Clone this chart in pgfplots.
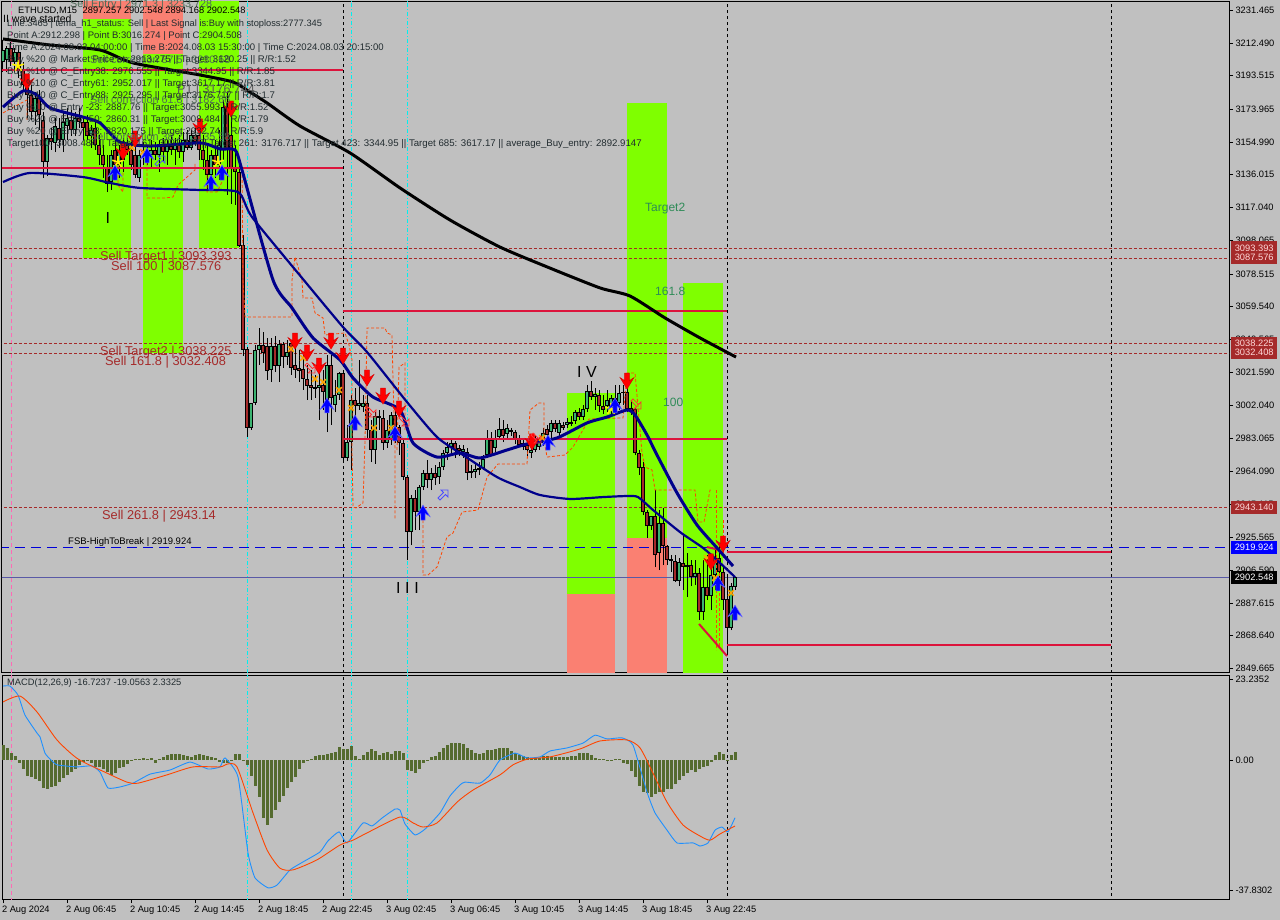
\documentclass[border=0pt]{standalone}
\usepackage{fontspec}
\setmainfont{Liberation Sans}
\usepackage{pgfplots}
\usepackage{pgfplotstable}
\pgfplotsset{compat=1.18}

\definecolor{chartbg}{HTML}{C0C0C0}
\definecolor{zonegreen}{HTML}{7FFF00}
\definecolor{zonered}{HTML}{FA8072}
\definecolor{crimsonline}{HTML}{DC143C}
\definecolor{navyline}{HTML}{00008B}
\definecolor{stepline}{HTML}{FF4500}
\definecolor{levelbrown}{HTML}{A52A2A}
\definecolor{upbody}{HTML}{3CB371}
\definecolor{dnbody}{HTML}{A52A2A}
\definecolor{histolive}{HTML}{556B2F}
\definecolor{macdblue}{HTML}{1E90FF}
\definecolor{infotext}{HTML}{222C30}
\definecolor{lblgreen}{HTML}{2E8B57}
\definecolor{dimtext}{HTML}{4F6B58}
\definecolor{orangex}{HTML}{FFA500}
\definecolor{pinkline}{HTML}{FF69B4}
\definecolor{cyanline}{HTML}{00F0F0}

% bar number, open, high, low, close
\pgfplotstableread{
n o h l c
0 3201.4 3214.2 3195.6 3208.4
1 3202.6 3210.7 3195.6 3209.6
2 3209.6 3213.0 3199.1 3201.4
3 3201.4 3209.6 3195.6 3207.2
4 3207.2 3210.7 3192.2 3196.8
5 3196.8 3201.4 3184.0 3188.1
6 3188.1 3194.5 3169.0 3182.3
7 3182.3 3188.1 3167.8 3172.4
8 3172.4 3184.0 3164.9 3180.6
9 3180.6 3185.2 3162.0 3170.7
10 3167.8 3172.4 3134.2 3143.4
11 3143.4 3159.1 3135.3 3157.4
12 3157.4 3163.2 3150.4 3155.0
13 3154.5 3169.0 3149.2 3164.3
14 3163.2 3169.0 3151.6 3156.2
15 3156.2 3172.4 3149.2 3166.6
16 3164.3 3174.8 3156.2 3169.0
17 3167.8 3173.6 3158.5 3162.0
18 3162.0 3172.4 3158.5 3169.0
19 3169.0 3174.8 3163.2 3166.6
20 3166.6 3170.1 3156.2 3163.2
21 3166.6 3170.7 3156.2 3158.5
22 3158.5 3164.9 3151.6 3162.0
23 3163.2 3167.8 3150.4 3153.3
24 3153.3 3159.1 3141.7 3147.5
25 3147.5 3153.3 3134.2 3141.7
26 3140.0 3147.5 3126.0 3130.7
27 3131.8 3150.4 3127.2 3147.5
28 3150.4 3156.2 3137.6 3141.7
29 3141.7 3153.3 3134.2 3150.4
30 3150.4 3157.4 3137.6 3144.6
31 3153.3 3157.4 3147.5 3150.4
32 3150.4 3155.0 3138.8 3141.7
33 3147.5 3153.3 3134.2 3135.9
34 3134.2 3150.4 3131.8 3147.5
35 3150.4 3155.0 3141.7 3149.2
36 3149.2 3153.3 3141.7 3145.8
37 3147.5 3156.2 3140.0 3150.4
38 3150.4 3155.0 3144.6 3147.5
39 3147.5 3156.2 3137.6 3153.3
40 3153.3 3157.4 3143.4 3149.2
41 3149.2 3156.2 3141.7 3152.7
42 3152.7 3159.1 3147.5 3150.4
43 3150.4 3157.4 3141.7 3153.3
44 3153.3 3159.1 3145.8 3149.2
45 3149.2 3160.8 3143.4 3156.2
46 3156.2 3162.0 3150.4 3151.6
47 3151.6 3162.0 3150.4 3159.1
48 3159.1 3163.2 3152.7 3155.0
49 3159.1 3166.6 3144.6 3150.4
50 3150.4 3159.1 3138.8 3144.6
51 3144.6 3153.3 3127.2 3135.9
52 3135.9 3150.4 3131.8 3147.5
53 3147.5 3156.2 3134.2 3141.7
54 3141.7 3162.0 3133.0 3153.3
55 3150.4 3179.4 3144.6 3175.3
56 3175.3 3184.0 3124.3 3150.4
57 3159.1 3173.6 3119.1 3140.0
58 3140.0 3153.3 3118.5 3137.6
59 3137.6 3144.6 3094.1 3094.7
60 3095.3 3101.1 3030.9 3034.4
61 3035.0 3036.1 2983.9 2989.2
62 2989.2 3003.7 2988.0 3003.7
63 3003.7 3037.3 3002.5 3034.4
64 3034.4 3047.2 3025.7 3037.3
65 3037.3 3044.8 3026.9 3032.7
66 3036.7 3041.4 3017.0 3022.2
67 3022.8 3041.4 3015.8 3036.7
68 3036.7 3042.5 3021.6 3025.1
69 3025.1 3040.2 3015.8 3037.9
70 3037.9 3039.0 3024.0 3030.3
71 3030.3 3040.2 3025.7 3033.2
72 3038.5 3040.2 3019.9 3024.0
73 3025.7 3037.3 3018.2 3022.8
74 3024.0 3034.4 3015.8 3022.2
75 3023.4 3031.5 3011.2 3017.6
76 3017.6 3025.7 3005.4 3013.5
77 3014.1 3022.8 3005.4 3012.4
78 3012.9 3019.9 3006.6 3011.8
79 3012.4 3022.8 2993.8 3014.1
80 3014.1 3022.8 2999.6 3010.0
81 3004.2 3031.5 2986.8 3025.7
82 3025.7 3031.5 2990.9 3006.6
83 3002.5 3017.0 2998.4 3008.3
84 3008.3 3021.6 3005.4 3021.1
85 3021.1 3021.6 2970.6 2971.8
86 2971.8 2990.9 2970.0 2981.0
87 2981.0 3008.3 2964.8 3005.4
88 3005.4 3012.4 2993.8 3001.9
89 3001.9 3028.6 2999.6 3003.7
90 3001.3 3008.3 2998.4 3003.7
91 3003.7 3008.3 2982.2 2988.0
92 2988.0 2993.8 2969.4 2976.4
93 2976.4 2998.4 2968.3 2996.1
94 2996.1 2999.6 2988.0 2995.0
95 2995.0 2999.6 2976.4 2980.5
96 2980.5 2993.8 2977.6 2988.0
97 2982.2 2998.4 2979.3 2996.7
98 2996.7 2999.6 2980.5 2989.7
99 2989.7 2990.9 2973.5 2980.5
100 2980.5 2983.4 2959.0 2960.7
101 2960.7 2961.9 2912.6 2928.8
102 2928.8 2950.3 2921.3 2948.6
103 2948.6 2953.2 2930.0 2940.4
104 2940.4 2956.1 2930.0 2954.9
105 2954.9 2964.8 2953.2 2963.1
106 2963.1 2970.6 2954.4 2959.0
107 2959.0 2966.0 2953.2 2963.1
108 2963.1 2967.7 2956.1 2960.2
109 2960.7 2969.4 2956.7 2966.5
110 2966.5 2976.4 2964.8 2974.7
111 2974.7 2981.0 2970.6 2978.1
112 2978.1 2982.2 2973.5 2980.5
113 2980.5 2981.6 2971.8 2976.4
114 2977.6 2979.3 2972.9 2975.8
115 2975.2 2979.3 2971.8 2977.0
116 2975.2 2977.6 2959.0 2963.1
117 2964.2 2967.7 2960.2 2963.1
118 2963.6 2968.9 2960.2 2965.4
119 2964.8 2969.4 2961.9 2966.0
120 2966.0 2973.5 2964.8 2971.2
121 2973.5 2988.0 2971.8 2982.8
122 2982.2 2986.8 2972.9 2973.5
123 2977.6 2988.0 2975.2 2983.4
124 2983.9 2995.0 2982.2 2988.6
125 2988.6 2993.8 2981.0 2984.5
126 2985.7 2991.5 2983.4 2989.2
127 2988.0 2989.2 2984.5 2986.8
128 2986.8 2988.0 2979.9 2982.8
129 2982.8 2985.1 2978.7 2979.3
130 2980.5 2982.2 2976.4 2978.1
131 2979.3 2983.4 2972.9 2976.4
132 2974.7 2979.3 2971.8 2976.4
133 2976.4 2984.5 2975.2 2983.4
134 2978.1 2983.9 2976.4 2981.0
135 2980.5 2989.2 2978.7 2986.3
136 2988.6 2990.9 2976.4 2985.1
137 2986.8 2993.8 2982.2 2992.1
138 2992.1 2993.8 2986.8 2988.6
139 2986.3 2993.8 2984.5 2992.1
140 2990.9 2992.6 2988.0 2989.2
141 2990.9 2995.0 2989.2 2992.6
142 2992.6 2996.1 2990.3 2991.5
143 2993.2 2999.6 2991.5 2998.4
144 2998.4 3000.8 2993.8 2995.5
145 2995.5 3002.5 2993.8 3000.2
146 3000.2 3014.1 2998.4 3010.6
147 3010.6 3016.4 3005.4 3007.1
148 3007.1 3012.4 2999.6 3008.9
149 3008.3 3011.2 2998.4 3001.9
150 3001.9 3008.3 2997.3 2999.6
151 3001.9 3011.2 2998.4 3005.4
152 3000.8 3008.3 2996.7 3006.6
153 3006.6 3014.1 3000.8 3003.7
154 3003.7 3014.1 2999.6 3009.5
155 3010.0 3014.1 3002.5 3009.5
156 3010.0 3019.9 2998.4 3000.2
157 3000.8 3005.4 2996.7 2999.0
158 3000.2 3000.8 2973.5 2974.7
159 2974.7 2976.4 2961.9 2966.0
160 2966.5 2969.4 2938.7 2940.4
161 2940.4 2941.6 2925.4 2932.3
162 2932.3 2938.1 2930.0 2938.1
163 2938.1 2953.2 2908.5 2915.5
164 2916.7 2941.6 2906.8 2934.1
165 2934.1 2942.8 2909.7 2920.7
166 2920.7 2921.3 2909.7 2912.6
167 2913.2 2915.5 2905.6 2912.0
168 2912.0 2915.5 2899.8 2900.4
169 2900.4 2913.8 2897.5 2911.4
170 2910.9 2927.1 2895.2 2908.5
171 2909.7 2916.7 2891.1 2908.5
172 2909.7 2912.6 2897.5 2902.7
173 2902.7 2912.6 2898.1 2905.1
174 2905.1 2908.0 2877.8 2882.4
175 2882.4 2912.6 2877.8 2897.0
176 2897.0 2915.5 2889.4 2891.7
177 2891.7 2915.5 2883.6 2903.9
178 2903.9 2921.3 2895.2 2913.8
179 2913.8 2921.3 2895.2 2905.6
180 2905.6 2909.7 2883.6 2889.4
181 2890.0 2903.9 2857.5 2873.2
182 2873.2 2899.3 2872.0 2897.5
183 2897.0 2902.7 2895.2 2902.5
}\candles

\pgfdeclareplotmark{dnarr}{%
  \pgfpathmoveto{\pgfqpoint{-2.4pt}{9pt}}\pgfpathlineto{\pgfqpoint{2.4pt}{9pt}}%
  \pgfpathlineto{\pgfqpoint{2.4pt}{1.5pt}}\pgfpathlineto{\pgfqpoint{7pt}{4.5pt}}%
  \pgfpathlineto{\pgfqpoint{0pt}{-7pt}}\pgfpathlineto{\pgfqpoint{-7pt}{4.5pt}}%
  \pgfpathlineto{\pgfqpoint{-2.4pt}{1.5pt}}\pgfpathclose\pgfusepathqfillstroke}
\pgfdeclareplotmark{uparr}{%
  \pgfpathmoveto{\pgfqpoint{-2.2pt}{-8pt}}\pgfpathlineto{\pgfqpoint{2.2pt}{-8pt}}%
  \pgfpathlineto{\pgfqpoint{2.2pt}{-1.5pt}}\pgfpathlineto{\pgfqpoint{7pt}{-4.5pt}}%
  \pgfpathlineto{\pgfqpoint{0pt}{7pt}}\pgfpathlineto{\pgfqpoint{-7pt}{-4.5pt}}%
  \pgfpathlineto{\pgfqpoint{-2.2pt}{-1.5pt}}\pgfpathclose\pgfusepathqfillstroke}
\pgfdeclareplotmark{nearr}{%
  \pgfpathmoveto{\pgfqpoint{6pt}{6pt}}\pgfpathlineto{\pgfqpoint{6pt}{-1pt}}%
  \pgfpathlineto{\pgfqpoint{3.5pt}{1.5pt}}\pgfpathlineto{\pgfqpoint{-2pt}{-4pt}}%
  \pgfpathlineto{\pgfqpoint{-4pt}{-2pt}}\pgfpathlineto{\pgfqpoint{1.5pt}{3.5pt}}%
  \pgfpathlineto{\pgfqpoint{-1pt}{6pt}}\pgfpathclose\pgfusepathqstroke}
\pgfdeclareplotmark{searr}{%
  \pgfpathmoveto{\pgfqpoint{6pt}{-6pt}}\pgfpathlineto{\pgfqpoint{6pt}{1pt}}%
  \pgfpathlineto{\pgfqpoint{3.5pt}{-1.5pt}}\pgfpathlineto{\pgfqpoint{-2pt}{4pt}}%
  \pgfpathlineto{\pgfqpoint{-4pt}{2pt}}\pgfpathlineto{\pgfqpoint{1.5pt}{-3.5pt}}%
  \pgfpathlineto{\pgfqpoint{-1pt}{-6pt}}\pgfpathclose\pgfusepathqstroke}

\newcommand{\txt}[5]{\node[anchor=west,inner sep=0pt,yshift=-1pt,text=#3,font=\fontsize{#4}{#4}\selectfont] at (#1pt,-#2pt) {#5};}
\newcommand{\pricebox}[4]{\node[anchor=west,fill=#3,text=#4,inner sep=0pt,minimum width=46pt,minimum height=13pt,font=\fontsize{9.3}{11}\selectfont] at (1231pt,-#1pt) {#2};}

\pgfplotsset{chartframe/.style={
  scale only axis, width=1227pt,
  xmin=-0.25, xmax=306.5,
  axis line style={black,line width=1pt},
  tick style={black,line width=0.8pt},
  tick align=outside, major tick length=4pt,
  ticklabel style={font=\fontsize{9.3}{11}\selectfont},
  ytick pos=right, yticklabel pos=right,
  yticklabel style={anchor=west,xshift=-1pt},
  clip=true,
}}

\begin{document}
\begin{tikzpicture}
\path[use as bounding box,fill=chartbg] (0pt,0pt) rectangle (1280pt,-920pt);

\begin{axis}[chartframe, at={(2pt,-672pt)}, anchor=south west, height=670pt,
  ymin=2847.64, ymax=3236.24,
  xtick=\empty,
  ytick={3231.465,3212.490,3193.515,3173.965,3154.990,3136.015,3117.040,3098.065,3078.515,3059.540,3040.565,3021.590,3002.040,2983.065,2964.090,2945.115,2925.565,2906.590,2887.615,2868.640,2849.665},
  yticklabels={3231.465,3212.490,3193.515,3173.965,3154.990,3136.015,3117.040,3098.065,3078.515,3059.540,3040.565,3021.590,3002.040,2983.065,2964.090,2945.115,2925.565,2906.590,2887.615,2868.640,2849.665},
]
% zones
\addplot[fill=zonegreen,draw=none] coordinates {(20,3226.4)(32,3226.4)(32,3087.576)(20,3087.576)} --cycle;
\addplot[fill=zonered,draw=none] coordinates {(20,3237)(32,3237)(32,3226.4)(20,3226.4)} --cycle;
\addplot[fill=zonegreen,draw=none] coordinates {(35,3206.1)(45,3206.1)(45,3032.408)(35,3032.408)} --cycle;
\addplot[fill=zonered,draw=none] coordinates {(35,3237)(45,3237)(45,3206.1)(35,3206.1)} --cycle;
\addplot[fill=zonegreen,draw=none] coordinates {(49,3237)(59,3237)(59,3093.393)(49,3093.393)} --cycle;
\addplot[fill=zonegreen,draw=none] coordinates {(141,3009.5)(153,3009.5)(153,2892.9)(141,2892.9)} --cycle;
\addplot[fill=zonered,draw=none] coordinates {(141,2892.9)(153,2892.9)(153,2847)(141,2847)} --cycle;
\addplot[fill=zonegreen,draw=none] coordinates {(156,3177.7)(166,3177.7)(166,2925.4)(156,2925.4)} --cycle;
\addplot[fill=zonered,draw=none] coordinates {(156,2925.4)(166,2925.4)(166,2847)(156,2847)} --cycle;
\addplot[fill=zonegreen,draw=none] coordinates {(170,3073.3)(180,3073.3)(180,2847)(170,2847)} --cycle;

% vertical markers
\addplot[pinkline,line width=0.8pt,dash pattern=on 4pt off 3pt] coordinates {(2.2,2847)(2.2,3237)};
\addplot[cyanline,line width=1pt,dash pattern=on 4pt off 2pt on 1pt off 2pt] coordinates {(61,2847)(61,3237)};
\addplot[cyanline,line width=1pt,dash pattern=on 4pt off 2pt on 1pt off 2pt] coordinates {(87,2847)(87,3237)};
\addplot[cyanline,line width=1pt,dash pattern=on 4pt off 2pt on 1pt off 2pt] coordinates {(101,2847)(101,3237)};
\addplot[black,line width=1pt,dash pattern=on 3pt off 3pt] coordinates {(85,2847)(85,3237)};
\addplot[black,line width=1pt,dash pattern=on 3pt off 3pt] coordinates {(181,2847)(181,3237)};
\addplot[black,line width=1pt,dash pattern=on 3pt off 3pt] coordinates {(277,2847)(277,3237)};

% horizontal levels
\addplot[levelbrown,line width=0.8pt,dash pattern=on 3pt off 2pt] coordinates {(-1,3093.393)(307,3093.393)};
\addplot[levelbrown,line width=0.8pt,dash pattern=on 3pt off 2pt] coordinates {(-1,3087.576)(307,3087.576)};
\addplot[levelbrown,line width=0.8pt,dash pattern=on 3pt off 2pt] coordinates {(-1,3038.225)(307,3038.225)};
\addplot[levelbrown,line width=0.8pt,dash pattern=on 3pt off 2pt] coordinates {(-1,3032.408)(307,3032.408)};
\addplot[levelbrown,line width=0.8pt,dash pattern=on 3pt off 2pt] coordinates {(-1,2943.140)(307,2943.140)};
\addplot[blue!85!black,line width=0.9pt,dash pattern=on 10pt off 6pt] coordinates {(-1,2919.924)(307,2919.924)};
\addplot[gray!70!blue,line width=0.8pt] coordinates {(-1,2902.548)(307,2902.548)};

% candles
\addplot[draw=none,mark=none,error bars/.cd,y dir=plus,y explicit,error mark=none,
  error bar style={black,line width=1pt}]
  table[x=n,y=l,y error expr=\thisrow{h}-\thisrow{l}] {\candles};
\addplot[draw=none,mark=none,error bars/.cd,y dir=plus,y explicit,error mark=none,
  error bar style={black,line width=3.2pt}]
  table[x=n,y expr={min(\thisrow{o},\thisrow{c})},y error expr={abs(\thisrow{o}-\thisrow{c})}] {\candles};
\addplot[draw=none,mark=none,unbounded coords=discard,error bars/.cd,y dir=plus,y explicit,error mark=none,
  error bar style={upbody,line width=1.6pt}]
  table[x=n,y expr={\thisrow{c}>=\thisrow{o} ? \thisrow{o}+0.6 : nan},y error expr={max(abs(\thisrow{o}-\thisrow{c})-1.2,0)}] {\candles};
\addplot[draw=none,mark=none,unbounded coords=discard,error bars/.cd,y dir=plus,y explicit,error mark=none,
  error bar style={dnbody,line width=1.6pt}]
  table[x=n,y expr={\thisrow{c}<\thisrow{o} ? \thisrow{c}+0.6 : nan},y error expr={max(abs(\thisrow{o}-\thisrow{c})-1.2,0)}] {\candles};

% stepped orange line
\addplot[stepline,line width=0.8pt,dash pattern=on 3pt off 2pt] coordinates {(0,3171.9)(2.25,3174.8)(6,3179.4)(6,3167.8)};
\addplot[stepline,line width=0.8pt,dash pattern=on 3pt off 2pt] coordinates {(28.75,3141.7)(28.75,3130.1)(30,3126.0)(30,3137.6)};
\addplot[stepline,line width=0.8pt,dash pattern=on 3pt off 2pt] coordinates {(36,3142.9)(36,3122.6)(40.5,3122.6)(42.5,3123.1)(43.75,3130.1)(48,3138.8)(48,3142.9)};
\addplot[stepline,line width=0.8pt,dash pattern=on 3pt off 2pt] coordinates {(51,3138.8)(51,3126.0)(53.5,3126.0)(54.75,3131.8)};
\addplot[stepline,line width=0.8pt,dash pattern=on 3pt off 2pt] coordinates {(59.75,3138.8)(60,3075.0)(60.5,3053.5)(72.25,3053.5)(72.25,3075)(73,3088.3)(74.75,3075)};
\addplot[stepline,line width=0.8pt,dash pattern=on 3pt off 2pt] coordinates {(74.75,3075)(75,3064.6)(77.25,3064.6)(78,3055.9)(80,3053.0)(80.5,3043.1)(85.5,3044.3)(86.5,3037.3)(87.25,3028.6)(87.25,2976.4)(87.5,2943.3)(88.25,2942.8)(90,2945.7)(90.5,2982.2)(91,3047.2)(95.5,3047.2)(96,3044.3)(97.25,3043.1)(97.5,3017.0)(98,2976.4)(98,2935.8)};
\addplot[stepline,line width=0.8pt,dash pattern=on 3pt off 2pt] coordinates {(98.5,2976.4)(99,3024.5)(100.5,3026.9)(100.5,2988.0)};
\addplot[stepline,line width=0.8pt,dash pattern=on 3pt off 2pt] coordinates {(105,2935.8)(105,2903.9)(106.25,2903.9)(108.5,2908.5)(111,2926.0)(112.5,2928.3)(114.75,2940.4)(118.75,2941.6)(121,2960.7)(123.75,2968.3)(131,2968.3)(131.75,2999.6)(134,3003.7)(135.25,3003.7)(135.25,2982.2)(136,2972.3)(140.5,2973.5)(142.5,2978.1)(146,2992.1)(146.5,2994.4)(155,2995.0)(156,3021.1)(158,3021.1)(158.75,3001.3)(159.75,2974.7)(160.5,2966.5)(162.25,2964.8)(163,2953.2)(173,2953.2)(173.75,2934.6)(175.25,2934.6)(176.75,2953.2)(177.25,2953.2)};
\addplot[stepline,line width=0.8pt,dash pattern=on 3pt off 2pt] coordinates {(178.25,2953.2)(178.25,2860.4)};
\addplot[stepline,line width=0.8pt,dash pattern=on 3pt off 2pt] coordinates {(179,2905.1)(179,2862.1)};
\addplot[stepline,line width=0.8pt,dash pattern=on 3pt off 2pt] coordinates {(180,2935.8)(180,2912.6)};

% crimson levels and trend
\addplot[crimsonline,line width=2pt] coordinates {(-1,3196.8)(85,3196.8)};
\addplot[crimsonline,line width=2pt] coordinates {(-1,3140.0)(85,3140.0)};
\addplot[crimsonline,line width=2pt] coordinates {(85,3057.0)(181,3057.0)};
\addplot[crimsonline,line width=2pt] coordinates {(85,2982.8)(181,2982.8)};
\addplot[crimsonline,line width=2pt] coordinates {(181,2917.0)(277,2917.0)};
\addplot[crimsonline,line width=2pt] coordinates {(181,2863.3)(277,2863.3)};
\addplot[crimsonline,line width=2pt] coordinates {(174,2875.5)(181,2856.9)};
\addplot[crimsonline,line width=2pt] coordinates {(176,2920.1)(179.25,2918.4)};

% moving averages
\addplot[black,line width=3pt,smooth,tension=0.4] coordinates {(0,3214.8)(11.75,3211.3)(24.25,3208.4)(32.5,3200.9)(49.25,3193.9)(57.5,3189.8)(61.75,3184.0)(66,3177.7)(74.25,3164.3)(86.75,3148.7)(99.25,3128.4)(111.75,3109.8)(124.25,3094.1)(136.75,3081.9)(149.25,3070.4)(156.75,3065.7)(165.5,3053.0)(174.25,3041.4)(183.25,3030.3)};
\addplot[navyline,line width=2.2pt,smooth,tension=0.4] coordinates {(0,3131.8)(6.75,3137.1)(20,3134.7)(26.75,3131.3)(34.25,3128.4)(49.25,3127.2)(58.75,3126.0)(62.25,3111.5)(74.75,3076.2)(85,3047.7)(91,3033.2)(101,3004.2)(108.5,2983.9)(115,2973.5)(123.5,2960.7)(129.25,2954.9)(134.25,2950.3)(141.75,2948.0)(150,2949.1)(156,2949.7)(158.75,2949.1)(162.5,2941.6)(169.25,2928.8)(175,2919.6)(179.25,2910.9)(183,2902.7)};
\addplot[navyline,line width=3pt,smooth,tension=0.4] coordinates {(0,3175.3)(5,3184.6)(8.5,3182.3)(11.75,3174.8)(20,3169.5)(24.25,3166.1)(29.25,3155.0)(36.75,3152.7)(49.25,3154.5)(54.25,3151.0)(58,3150.4)(59.75,3138.8)(67.5,3075.0)(72.25,3058.8)(77.5,3041.4)(84.25,3028.6)(87.5,3018.2)(92.5,3007.1)(99.25,2999.6)(102.5,2980.5)(108.5,2972.3)(114.25,2974.7)(119.25,2971.8)(126,2976.4)(131,2979.9)(138.5,2983.4)(146,2992.1)(151,2995.5)(156,2999.6)(158,2996.7)(161,2985.1)(163.5,2973.5)(168.5,2951.5)(173.5,2932.9)(178.5,2919.6)(182.5,2909.1)};

% signals
\addplot[only marks,mark=x,mark size=4pt,mark options={orangex,line width=1.5pt}] coordinates {(32.25,3151.6)(35,3149.2)(72,3035.0)(75,3029.8)(78,3017.6)(80,3015.8)(84,3011.2)(87,3000.8)(92.75,2989.2)(97,2989.2)(134.75,2983.4)(176,2913.8)(178,2902.2)(182,2893.5)};
\addplot[only marks,mark=star,mark size=6pt,mark options={yellow,fill=yellow,line width=1.6pt}] coordinates {(3.75,3199.1)(28.75,3143.4)(53.75,3143.4)(152,3000.2)};
\addplot[only marks,mark=dnarr,mark options={fill=red,draw=red!85!black,line width=0.4pt}] coordinates {(6,3189.3)(30,3148.7)(33,3156.2)(49.25,3163.2)(57,3173.6)(73,3039.0)(76,3032.1)(79,3024.5)(82,3039.0)(85,3030.3)(91,3017.6)(95,3007.1)(99,2999.6)(132.25,2980.5)(156,3015.8)(177,2910.9)(180,2921.3)};
\addplot[only marks,mark=uparr,mark options={fill=blue,draw=blue!60!white,line width=0.5pt}] coordinates {(28,3137.6)(36,3147.5)(52,3131.8)(54.75,3137.6)(81,3002.5)(88,2992.6)(98,2986.3)(105,2940.4)(136.25,2981.0)(153,3002.5)(178.75,2899.3)(183,2882.4)};
\addplot[only marks,mark=nearr,mark options={draw=blue!70!white,line width=0.8pt}] coordinates {(39,3143.4)(109.75,2949.7)};
\addplot[only marks,mark=searr,mark options={draw=red!80!white,line width=0.8pt}] coordinates {(76.5,3024.5)(91.75,2999.0)(100,2993.8)(158,3003.7)(133,2983.9)};
\end{axis}

\begin{axis}[chartframe, at={(2pt,-899pt)}, anchor=south west, height=224pt,
  ymin=-40.23, ymax=24.60,
  xtick={0,16,32,48,64,80,96,112,128,144,160,176},
  xticklabels={2 Aug 2024,2 Aug 06:45,2 Aug 10:45,2 Aug 14:45,2 Aug 18:45,2 Aug 22:45,3 Aug 02:45,3 Aug 06:45,3 Aug 10:45,3 Aug 14:45,3 Aug 18:45,3 Aug 22:45},
  xticklabel style={anchor=north west,xshift=-4.5pt,yshift=1pt},
  xtick pos=bottom,
  ytick={23.2352,0,-37.8302},
  yticklabels={23.2352,0.00,-37.8302},
]
\addplot[pinkline,line width=0.8pt,dash pattern=on 4pt off 3pt] coordinates {(2.2,-41)(2.2,25)};
\addplot[cyanline,line width=1pt,dash pattern=on 4pt off 2pt on 1pt off 2pt] coordinates {(61,-41)(61,25)};
\addplot[cyanline,line width=1pt,dash pattern=on 4pt off 2pt on 1pt off 2pt] coordinates {(87,-41)(87,25)};
\addplot[cyanline,line width=1pt,dash pattern=on 4pt off 2pt on 1pt off 2pt] coordinates {(101,-41)(101,25)};
\addplot[black,line width=1pt,dash pattern=on 3pt off 3pt] coordinates {(85,-41)(85,25)};
\addplot[black,line width=1pt,dash pattern=on 3pt off 3pt] coordinates {(181,-41)(181,25)};
\addplot[black,line width=1pt,dash pattern=on 3pt off 3pt] coordinates {(277,-41)(277,25)};
\addplot[ycomb,histolive,line width=3pt,mark=none] coordinates {
(0,4.34)(1,3.47)(2,2.03)(3,1.16)(4,-0.87)(5,-2.60)(6,-4.63)(7,-4.92)(8,-5.50)(9,-6.08)
(10,-8.10)(11,-8.39)(12,-7.81)(13,-7.52)(14,-6.37)(15,-5.21)(16,-4.34)(17,-3.47)(18,-2.60)(19,-1.45)
(20,-0.58)(21,-0.29)(22,-0.87)(23,-2.03)(24,-2.03)(25,-2.60)(26,-3.47)(27,-4.34)(28,-3.76)(29,-2.32)
(30,-2.03)(31,-1.16)(32,-0.29)(33,0.29)(34,0.29)(35,0.58)(36,0.29)(37,0.58)(38,-0.87)(39,0.29)
(40,0.87)(41,1.45)(42,1.74)(43,1.74)(44,1.74)(45,1.45)(46,1.16)(47,0.87)(48,1.45)(49,1.74)
(50,1.45)(51,1.16)(52,0.87)(53,0.58)(54,-0.58)(55,-0.87)(56,-0.87)(57,0.10)(58,1.74)(59,1.74)
(60,-0.29)(61,-1.45)(62,-4.63)(63,-7.52)(64,-10.71)(65,-16.79)(66,-18.81)(67,-16.79)(68,-14.47)(69,-12.15)
(70,-10.42)(71,-8.10)(72,-6.37)(73,-4.92)(74,-2.60)(75,-0.87)(76,-0.29)(77,0.29)(78,1.16)(79,1.45)
(80,1.45)(81,1.74)(82,2.03)(83,2.32)(84,3.76)(85,3.18)(86,3.18)(87,4.05)(88,1.16)(89,0.29)
(90,1.45)(91,2.32)(92,3.18)(93,2.60)(94,1.45)(95,2.03)(96,2.32)(97,1.74)(98,2.60)(99,2.60)
(100,2.03)(101,-2.89)(102,-3.18)(103,-3.76)(104,-2.60)(105,-0.87)(106,-0.29)(107,0.87)(108,1.16)(109,2.32)
(110,3.47)(111,4.34)(112,4.92)(113,4.92)(114,4.92)(115,4.63)(116,3.47)(117,2.89)(118,2.03)(119,1.74)
(120,2.03)(121,2.89)(122,2.89)(123,3.18)(124,3.47)(125,3.47)(126,3.47)(127,2.60)(128,2.03)(129,1.45)
(130,1.16)(131,0.87)(132,0.58)(133,0.58)(134,0.58)(135,1.16)(136,1.16)(137,0.87)(138,0.87)(139,0.87)
(140,0.87)(141,0.87)(142,1.16)(143,1.16)(144,2.03)(145,2.03)(146,2.03)(147,1.45)(148,0.58)(149,0.29)
(150,0.29)(151,0.05)(152,-0.14)(153,0.29)(154,0.29)(155,-0.87)(156,-1.16)(157,-3.18)(158,-4.92)(159,-7.52)
(160,-9.26)(161,-9.55)(162,-10.71)(163,-9.84)(164,-9.26)(165,-9.26)(166,-8.39)(167,-8.39)(168,-6.95)(169,-5.79)
(170,-4.63)(171,-3.76)(172,-2.89)(173,-3.47)(174,-2.60)(175,-2.03)(176,-1.74)(177,-0.58)(178,1.45)(179,2.32)
(180,1.74)(181,0.05)(182,1.45)(183,2.3325)};
\addplot[macdblue,line width=0.9pt,smooth,tension=0.3] coordinates {(0,21.4)(1.75,21.4)(3.75,18.8)(5.5,13.0)(8.5,7.8)(9.25,6.7)(10.5,2.0)(11.75,0.3)(13.5,-1.4)(18.5,-2.0)(22.25,-1.7)(24.25,-3.5)(26.25,-8.1)(29.25,-7.8)(32.5,-6.7)(36.75,-4.1)(41.75,-2.9)(46.75,-0.6)(51.25,-2.6)(54.25,-2.0)(55.5,0.6)(58.75,-4.9)(61.25,-26.9)(63,-34.1)(66.25,-37.0)(68.5,-36.2)(71.75,-31.8)(75,-29.5)(79.25,-26.6)(81.25,-23.4)(84,-20.8)(86,-24.0)(90,-18.2)(92.25,-19.1)(94.75,-16.8)(98,-14.2)(99.25,-14.5)(100.5,-18.5)(103,-21.7)(105.5,-20.0)(109.25,-15.3)(111.75,-10.4)(114.25,-7.2)(115.5,-6.4)(119.25,-6.7)(121.75,-4.3)(124.25,0)(128,2.0)(131,0.6)(134.25,0.9)(136.75,2.6)(141,3.5)(145,4.9)(148,7.2)(151,6.1)(154.75,6.4)(157.5,4.3)(161,-9.3)(163,-15.3)(166,-20.3)(168.5,-24.0)(172.5,-24.0)(174.25,-24.9)(176.25,-24.0)(178,-20.3)(179.75,-19.4)(181.25,-20.8)(183,-16.7)};
\addplot[stepline,line width=0.9pt,smooth,tension=0.4] coordinates {(0,16.8)(4.25,18.5)(8.5,13.9)(13.5,5.8)(18.75,0.3)(26,-3.8)(31,-6.4)(33.75,-6.7)(41,-4.3)(47.5,-2.0)(54.25,-2.0)(56,-1.2)(58.5,-2.0)(62.5,-15.3)(66,-26.0)(69.25,-31.3)(72.5,-31.8)(78.5,-28.9)(84.25,-24.6)(87.5,-23.2)(91,-21.1)(99.25,-16.5)(102.5,-18.2)(105,-19.4)(108.5,-18.2)(113.5,-12.2)(117.5,-8.7)(124.25,-4.3)(127.5,-1.4)(131.25,0.3)(136.75,0.9)(144.25,3.2)(149.25,5.5)(156,5.8)(159.25,3.5)(162.5,-3.8)(166,-12.2)(170,-18.8)(174.25,-22.0)(176.75,-23.2)(179.25,-21.4)(183,-19.1)};
\end{axis}

% texts laid over the chart
\txt{70}{4}{dimtext}{10.8}{Sell Entry | 2971.3 | 3233.728}
\txt{90}{60}{dimtext}{10.8}{Sell correction 87.5 | 3230.68}
\txt{90}{100}{dimtext}{10.8}{Sell correction 61.8 | 3182.66}
\txt{90}{137}{dimtext}{10.8}{Sell correction 38.2 | 3135.58}
\txt{177}{89}{black!65}{12.5}{P1 | 3176.744}
\txt{18}{10}{black}{9.3}{ETHUSD,M15\hspace{3pt} 2897.257 2902.548 2894.168 2902.548}
\txt{3}{17.5}{black}{10.5}{II wave started}
\txt{7}{23}{infotext}{9.3}{Line:3465 | tema\_h1\_status: Sell | Last Signal is:Buy with stoploss:2777.345}
\txt{7}{35}{infotext}{9.5}{Point A:2912.298 | Point B:3016.274 | Point C:2904.508}
\txt{7}{47}{infotext}{9.55}{Time A:2024.08.03 04:00:00 | Time B:2024.08.03 15:30:00 | Time C:2024.08.03 20:15:00}
\txt{7}{59}{infotext}{9.6}{Buy \%20 @ Market Price at:\ 2913.275\ || Target:\ 3120.25 ||\ R/R:1.52}
\txt{7}{71}{infotext}{9.6}{Buy \%10 @ C\_Entry38: 2976.555 || Target:3344.95 || R/R:1.85}
\txt{7}{83}{infotext}{9.6}{Buy \%10 @ C\_Entry61: 2952.017 || Target:3617.17 || R/R:3.81}
\txt{7}{95}{infotext}{9.6}{Buy \%10 @ C\_Entry88: 2925.295 || Target:3176.717 || R/R:1.7}
\txt{7}{107}{infotext}{9.6}{Buy \%10 @ Entry -23: 2887.76 || Target:3055.993 || R/R:1.52}
\txt{7}{119}{infotext}{9.6}{Buy \%20 @ Entry -50: 2860.31 || Target:3008.484 || R/R:1.79}
\txt{7}{131}{infotext}{9.6}{Buy \%20 @ Entry -88: 2820.175 || Target:2932.74 || R/R:5.9}
\txt{7}{143}{infotext}{9.65}{Target100: 3008.484 || Target 161: 3091.717 || Target 261: 3176.717 || Target 423: 3344.95 || Target 685: 3617.17 || average\_Buy\_entry: 2892.9147}
\txt{100}{256}{levelbrown}{12.8}{Sell Target1 | 3093.393}
\txt{111}{266}{levelbrown}{12.8}{Sell 100 | 3087.576}
\txt{100}{351}{levelbrown}{12.8}{Sell Target2 | 3038.225}
\txt{105}{361}{levelbrown}{12.8}{Sell 161.8 | 3032.408}
\txt{102}{515}{levelbrown}{12.8}{Sell 261.8 | 2943.14}
\txt{68}{541}{black}{9.5}{FSB-HighToBreak | 2919.924}
\txt{645}{208}{lblgreen}{12}{Target2}
\txt{655}{290}{lblgreen}{12}{161.8}
\txt{663}{401}{lblgreen}{12}{100}
\txt{105.5}{217}{black}{16}{I}
\txt{577}{371}{black}{16}{I V}
\txt{396}{587}{black}{16}{I\hspace{4.6pt}I\hspace{4.6pt}I}
\txt{7}{682.5}{infotext}{9.3}{MACD(12,26,9) -16.7237 -19.0563 2.3325}

% price tags on the scale
\pricebox{248}{3093.393}{levelbrown}{pink!60!white}
\pricebox{257.5}{3087.576}{levelbrown}{pink!60!white}
\pricebox{343}{3038.225}{levelbrown}{pink!60!white}
\pricebox{352.5}{3032.408}{levelbrown}{pink!60!white}
\pricebox{507}{2943.140}{levelbrown}{pink!60!white}
\pricebox{547}{2919.924}{blue}{white}
\pricebox{577.5}{2902.548}{black}{white}
\end{tikzpicture}
\end{document}
